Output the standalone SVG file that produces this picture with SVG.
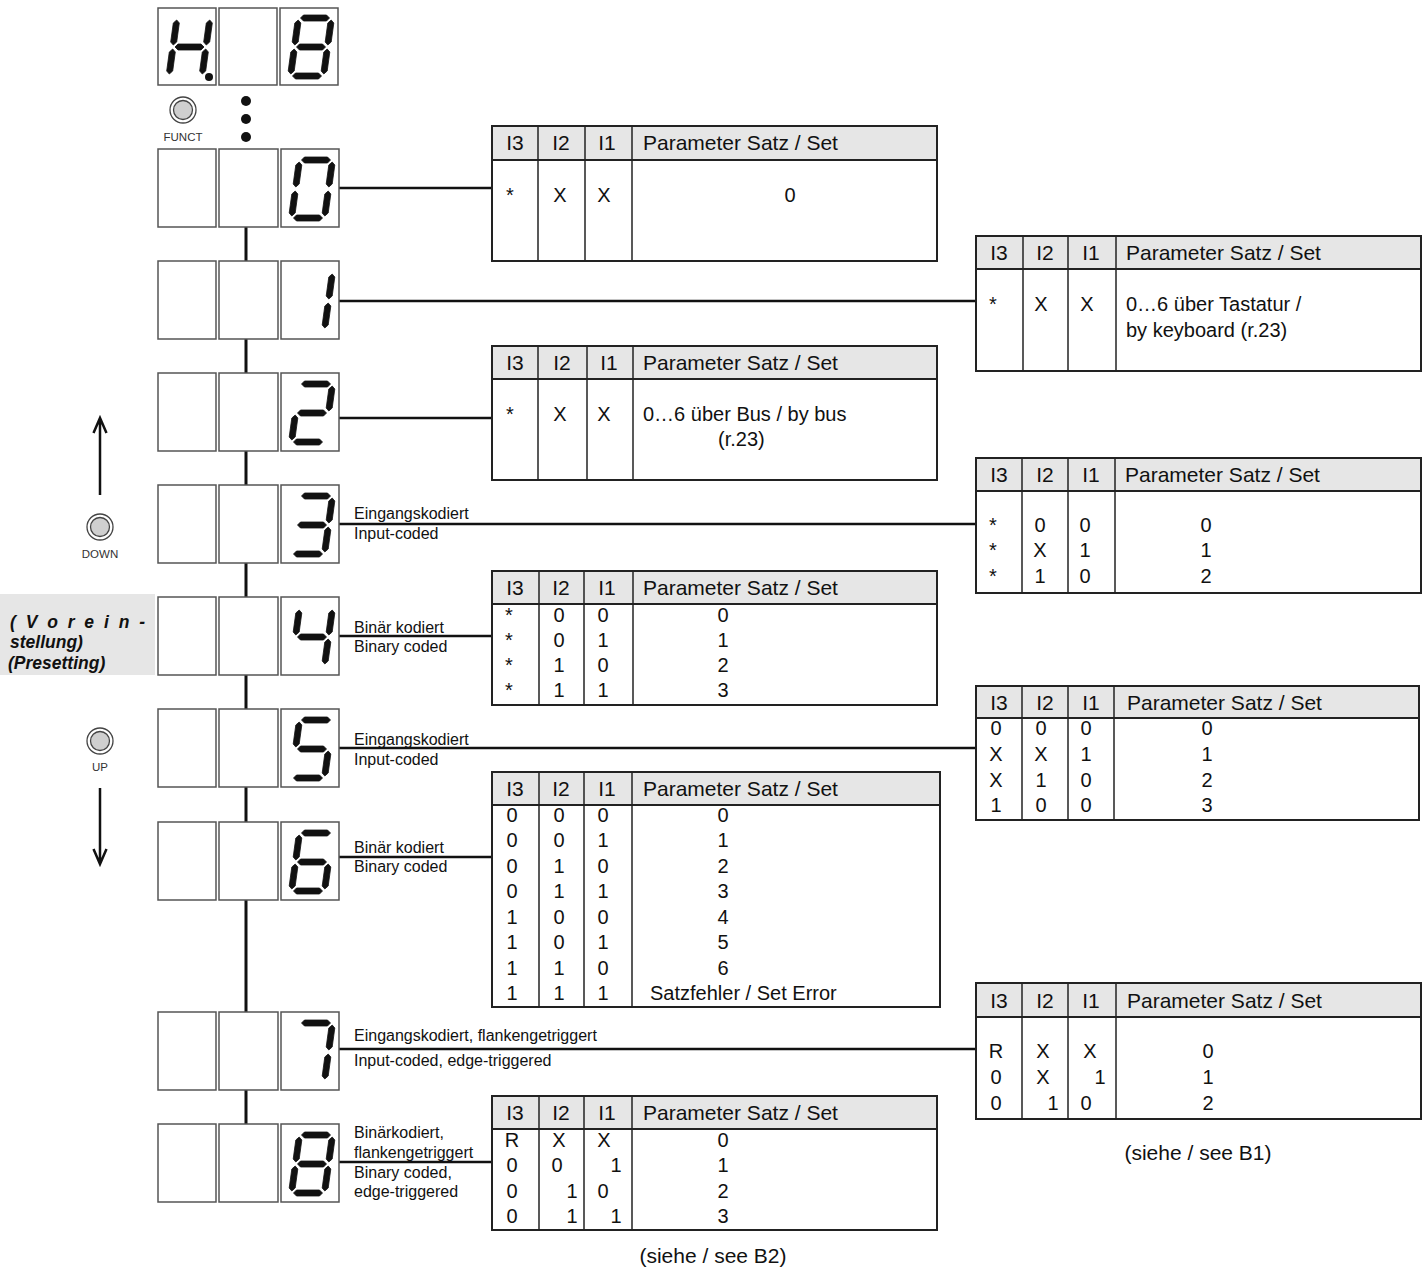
<svg xmlns="http://www.w3.org/2000/svg" xmlns:xlink="http://www.w3.org/1999/xlink" width="1428" height="1271" viewBox="0 0 1428 1271">
<style>
.bg{fill:#fff}
.box{fill:#fff;stroke:#555;stroke-width:1.5}
.seg{fill:#111;stroke:#111;stroke-width:0.8;stroke-linejoin:round}
.tb{fill:#fff;stroke:#222;stroke-width:2}
.hd{fill:#e6e6e6;stroke:#222;stroke-width:2}
.cl{stroke:#222;stroke-width:1.5}
.t{font-family:"Liberation Sans",Arial,Helvetica,sans-serif;font-size:20px;fill:#111}
.h{font-size:21px}
.s{font-size:16px}
.xs{font-size:11.5px;fill:#333}
.c{text-anchor:middle}
.bi{font-weight:bold;font-style:italic;font-size:17.5px}
.conn{stroke:#111;stroke-width:2.5;fill:none}
.btn-o{fill:#fff;stroke:#444;stroke-width:1.3}
.btn-i{fill:#cfcfcf;stroke:#444;stroke-width:1.3}
</style>
<defs>
<polygon id="sa" class="seg" points="23,11 26,8 49,8 52,11 49,14 26,14"/>
<polygon id="sb" class="seg" points="53.7,13 56.3,16 53.7,35 50.3,38 47.7,35 50.3,16"/>
<polygon id="sc" class="seg" points="49.7,42 52.3,45 49.7,64 46.3,67 43.7,64 46.3,45"/>
<polygon id="sd" class="seg" points="15,69 18,66 41,66 44,69 41,72 18,72"/>
<polygon id="se" class="seg" points="16.7,42 19.3,45 16.7,64 13.3,67 10.7,64 13.3,45"/>
<polygon id="sf" class="seg" points="20.7,13 23.3,16 20.7,35 17.3,38 14.7,35 17.3,16"/>
<polygon id="sg" class="seg" points="19,40 22,37 45,37 48,40 45,43 22,43"/>
</defs>
<rect class="bg" x="0" y="0" width="1428" height="1271"/>

<g id="connectors">
<line class="conn" x1="246" y1="227" x2="246" y2="1124" style="stroke-width:3"/>
<line class="conn" x1="339" y1="188" x2="492" y2="188"/>
<line class="conn" x1="339" y1="301" x2="976" y2="301"/>
<line class="conn" x1="339" y1="418" x2="492" y2="418"/>
<line class="conn" x1="339" y1="524" x2="976" y2="524"/>
<line class="conn" x1="339" y1="636" x2="492" y2="636"/>
<line class="conn" x1="339" y1="748" x2="976" y2="748"/>
<line class="conn" x1="339" y1="857" x2="492" y2="857"/>
<line class="conn" x1="339" y1="1049" x2="976" y2="1049"/>
<line class="conn" x1="339" y1="1162" x2="492" y2="1162"/>
<g class="t s">
<text x="354" y="519">Eingangskodiert</text>
<text x="354" y="539">Input-coded</text>
<text x="354" y="633">Binär kodiert</text>
<text x="354" y="652">Binary coded</text>
<text x="354" y="745">Eingangskodiert</text>
<text x="354" y="765">Input-coded</text>
<text x="354" y="853">Binär kodiert</text>
<text x="354" y="872">Binary coded</text>
<text x="354" y="1041">Eingangskodiert, flankengetriggert</text>
<text x="354" y="1066">Input-coded, edge-triggered</text>
<text x="354" y="1138">Binärkodiert,</text>
<text x="354" y="1158">flankengetriggert</text>
<text x="354" y="1178">Binary coded,</text>
<text x="354" y="1197">edge-triggered</text>
</g>
</g>

<g id="display">
<rect class="box" x="158" y="8" width="58" height="77"/>
<rect class="box" x="219" y="8" width="58" height="77"/>
<rect class="box" x="280" y="8" width="58" height="77"/>
<g transform="translate(156,7)"><use href="#sf"/><use href="#se"/><use href="#sg"/><use href="#sb"/><use href="#sc"/><circle cx="53" cy="70" r="4" fill="#111"/></g>
<g transform="translate(277.5,7)"><use href="#sa"/><use href="#sb"/><use href="#sc"/><use href="#sd"/><use href="#se"/><use href="#sf"/><use href="#sg"/></g>
</g>

<g id="funct">
<circle class="btn-o" cx="183" cy="110" r="13"/>
<circle class="btn-i" cx="183" cy="110" r="9.5"/>
<text class="t xs c" x="183" y="141">FUNCT</text>
</g>
<g id="dots" fill="#111">
<circle cx="246" cy="101" r="5"/><circle cx="246" cy="119" r="5"/><circle cx="246" cy="137" r="5"/>
</g>

<g id="down">
<path class="conn" d="M100,495 V420 M93.5,433 L100,418 L106.5,433"/>
<circle class="btn-o" cx="100" cy="527" r="13"/>
<circle class="btn-i" cx="100" cy="527" r="9.5"/>
<text class="t xs c" x="100" y="558">DOWN</text>
</g>
<g id="up">
<circle class="btn-o" cx="100" cy="741" r="13"/>
<circle class="btn-i" cx="100" cy="741" r="9.5"/>
<text class="t xs c" x="100" y="771">UP</text>
<path class="conn" d="M100,788 V862 M93.5,849 L100,864 L106.5,849"/>
</g>
<g id="presetting">
<rect x="0" y="594" width="155" height="81" fill="#e6e6e6"/>
<text class="t bi" x="10" y="628" textLength="135" lengthAdjust="spacing">( V o r e i n -</text>
<text class="t bi" x="10" y="648">stellung)</text>
<text class="t bi" x="8" y="669">(Presetting)</text>
</g>

<g id="row0">
<rect class="box" x="158" y="149" width="58" height="78"/><rect class="box" x="219" y="149" width="59" height="78"/><rect class="box" x="281" y="149" width="58" height="78"/>
<g transform="translate(278.5,149)"><use href="#sa"/><use href="#sb"/><use href="#sc"/><use href="#sd"/><use href="#se"/><use href="#sf"/></g>
</g>
<g id="row1">
<rect class="box" x="158" y="261" width="58" height="78"/><rect class="box" x="219" y="261" width="59" height="78"/><rect class="box" x="281" y="261" width="58" height="78"/>
<g transform="translate(278.5,261)"><use href="#sb"/><use href="#sc"/></g>
</g>
<g id="row2">
<rect class="box" x="158" y="373" width="58" height="78"/><rect class="box" x="219" y="373" width="59" height="78"/><rect class="box" x="281" y="373" width="58" height="78"/>
<g transform="translate(278.5,373)"><use href="#sa"/><use href="#sb"/><use href="#sg"/><use href="#se"/><use href="#sd"/></g>
</g>
<g id="row3">
<rect class="box" x="158" y="485" width="58" height="78"/><rect class="box" x="219" y="485" width="59" height="78"/><rect class="box" x="281" y="485" width="58" height="78"/>
<g transform="translate(278.5,485)"><use href="#sa"/><use href="#sb"/><use href="#sg"/><use href="#sc"/><use href="#sd"/></g>
</g>
<g id="row4">
<rect class="box" x="158" y="597" width="58" height="78"/><rect class="box" x="219" y="597" width="59" height="78"/><rect class="box" x="281" y="597" width="58" height="78"/>
<g transform="translate(278.5,597)"><use href="#sf"/><use href="#sg"/><use href="#sb"/><use href="#sc"/></g>
</g>
<g id="row5">
<rect class="box" x="158" y="709" width="58" height="78"/><rect class="box" x="219" y="709" width="59" height="78"/><rect class="box" x="281" y="709" width="58" height="78"/>
<g transform="translate(278.5,709)"><use href="#sa"/><use href="#sf"/><use href="#sg"/><use href="#sc"/><use href="#sd"/></g>
</g>
<g id="row6">
<rect class="box" x="158" y="822" width="58" height="78"/><rect class="box" x="219" y="822" width="59" height="78"/><rect class="box" x="281" y="822" width="58" height="78"/>
<g transform="translate(278.5,822)"><use href="#sa"/><use href="#sf"/><use href="#sg"/><use href="#se"/><use href="#sc"/><use href="#sd"/></g>
</g>
<g id="row7">
<rect class="box" x="158" y="1012" width="58" height="78"/><rect class="box" x="219" y="1012" width="59" height="78"/><rect class="box" x="281" y="1012" width="58" height="78"/>
<g transform="translate(278.5,1012)"><use href="#sa"/><use href="#sb"/><use href="#sc"/></g>
</g>
<g id="row8">
<rect class="box" x="158" y="1124" width="58" height="78"/><rect class="box" x="219" y="1124" width="59" height="78"/><rect class="box" x="281" y="1124" width="58" height="78"/>
<g transform="translate(278.5,1124)"><use href="#sa"/><use href="#sb"/><use href="#sc"/><use href="#sd"/><use href="#se"/><use href="#sf"/><use href="#sg"/></g>
</g>

<g id="table0">
<rect class="tb" x="492" y="126" width="445" height="135"/>
<rect class="hd" x="492" y="126" width="445" height="34"/>
<line class="cl" x1="538" y1="126" x2="538" y2="261"/><line class="cl" x1="585" y1="126" x2="585" y2="261"/><line class="cl" x1="632" y1="126" x2="632" y2="261"/>
<g class="t h"><text class="c" x="515" y="150">I3</text><text class="c" x="561" y="150">I2</text><text class="c" x="607" y="150">I1</text><text x="643" y="150">Parameter Satz / Set</text></g>
<g class="t"><text class="c" x="510" y="202">*</text><text class="c" x="560" y="202">X</text><text class="c" x="604" y="202">X</text><text class="c" x="790" y="202">0</text></g>
</g>

<g id="table1">
<rect class="tb" x="976" y="236" width="445" height="135"/>
<rect class="hd" x="976" y="236" width="445" height="33"/>
<line class="cl" x1="1023" y1="236" x2="1023" y2="371"/><line class="cl" x1="1068" y1="236" x2="1068" y2="371"/><line class="cl" x1="1116" y1="236" x2="1116" y2="371"/>
<g class="t h"><text class="c" x="999" y="260">I3</text><text class="c" x="1045" y="260">I2</text><text class="c" x="1091" y="260">I1</text><text x="1126" y="260">Parameter Satz / Set</text></g>
<g class="t"><text class="c" x="993" y="311">*</text><text class="c" x="1041" y="311">X</text><text class="c" x="1087" y="311">X</text><text x="1126" y="311">0…6 über Tastatur /</text><text x="1126" y="337">by keyboard (r.23)</text></g>
</g>

<g id="table2">
<rect class="tb" x="492" y="346" width="445" height="134"/>
<rect class="hd" x="492" y="346" width="445" height="33"/>
<line class="cl" x1="538" y1="346" x2="538" y2="480"/><line class="cl" x1="587" y1="346" x2="587" y2="480"/><line class="cl" x1="633" y1="346" x2="633" y2="480"/>
<g class="t h"><text class="c" x="515" y="370">I3</text><text class="c" x="562" y="370">I2</text><text class="c" x="609" y="370">I1</text><text x="643" y="370">Parameter Satz / Set</text></g>
<g class="t"><text class="c" x="510" y="421">*</text><text class="c" x="560" y="421">X</text><text class="c" x="604" y="421">X</text><text x="643" y="421">0…6 über Bus / by bus</text><text x="718" y="446">(r.23)</text></g>
</g>

<g id="table3">
<rect class="tb" x="976" y="458" width="445" height="135"/>
<rect class="hd" x="976" y="458" width="445" height="33"/>
<line class="cl" x1="1022" y1="458" x2="1022" y2="593"/><line class="cl" x1="1068" y1="458" x2="1068" y2="593"/><line class="cl" x1="1115" y1="458" x2="1115" y2="593"/>
<g class="t h"><text class="c" x="999" y="482">I3</text><text class="c" x="1045" y="482">I2</text><text class="c" x="1091" y="482">I1</text><text x="1125" y="482">Parameter Satz / Set</text></g>
<g class="t c">
<text x="993" y="532">*</text><text x="1040" y="532">0</text><text x="1085" y="532">0</text><text x="1206" y="532">0</text>
<text x="993" y="557">*</text><text x="1040" y="557">X</text><text x="1085" y="557">1</text><text x="1206" y="557">1</text>
<text x="993" y="583">*</text><text x="1040" y="583">1</text><text x="1085" y="583">0</text><text x="1206" y="583">2</text>
</g>
</g>

<g id="table4">
<rect class="tb" x="492" y="571" width="445" height="134"/>
<rect class="hd" x="492" y="571" width="445" height="33"/>
<line class="cl" x1="539" y1="571" x2="539" y2="705"/><line class="cl" x1="584" y1="571" x2="584" y2="705"/><line class="cl" x1="633" y1="571" x2="633" y2="705"/>
<g class="t h"><text class="c" x="515" y="595">I3</text><text class="c" x="561" y="595">I2</text><text class="c" x="607" y="595">I1</text><text x="643" y="595">Parameter Satz / Set</text></g>
<g class="t c">
<text x="509" y="622">*</text><text x="559" y="622">0</text><text x="603" y="622">0</text><text x="723" y="622">0</text>
<text x="509" y="647">*</text><text x="559" y="647">0</text><text x="603" y="647">1</text><text x="723" y="647">1</text>
<text x="509" y="672">*</text><text x="559" y="672">1</text><text x="603" y="672">0</text><text x="723" y="672">2</text>
<text x="509" y="697">*</text><text x="559" y="697">1</text><text x="603" y="697">1</text><text x="723" y="697">3</text>
</g>
</g>

<g id="table5">
<rect class="tb" x="976" y="686" width="443" height="134"/>
<rect class="hd" x="976" y="686" width="443" height="32"/>
<line class="cl" x1="1022" y1="686" x2="1022" y2="820"/><line class="cl" x1="1068" y1="686" x2="1068" y2="820"/><line class="cl" x1="1114" y1="686" x2="1114" y2="820"/>
<g class="t h"><text class="c" x="999" y="710">I3</text><text class="c" x="1045" y="710">I2</text><text class="c" x="1091" y="710">I1</text><text x="1127" y="710">Parameter Satz / Set</text></g>
<g class="t c">
<text x="996" y="735">0</text><text x="1041" y="735">0</text><text x="1086" y="735">0</text><text x="1207" y="735">0</text>
<text x="996" y="761">X</text><text x="1041" y="761">X</text><text x="1086" y="761">1</text><text x="1207" y="761">1</text>
<text x="996" y="787">X</text><text x="1041" y="787">1</text><text x="1086" y="787">0</text><text x="1207" y="787">2</text>
<text x="996" y="812">1</text><text x="1041" y="812">0</text><text x="1086" y="812">0</text><text x="1207" y="812">3</text>
</g>
</g>

<g id="table6">
<rect class="tb" x="492" y="772" width="448" height="235"/>
<rect class="hd" x="492" y="772" width="448" height="33"/>
<line class="cl" x1="539" y1="772" x2="539" y2="1007"/><line class="cl" x1="584" y1="772" x2="584" y2="1007"/><line class="cl" x1="632" y1="772" x2="632" y2="1007"/>
<g class="t h"><text class="c" x="515" y="796">I3</text><text class="c" x="561" y="796">I2</text><text class="c" x="607" y="796">I1</text><text x="643" y="796">Parameter Satz / Set</text></g>
<g class="t c">
<text x="512" y="822">0</text><text x="559" y="822">0</text><text x="603" y="822">0</text><text x="723" y="822">0</text>
<text x="512" y="847">0</text><text x="559" y="847">0</text><text x="603" y="847">1</text><text x="723" y="847">1</text>
<text x="512" y="873">0</text><text x="559" y="873">1</text><text x="603" y="873">0</text><text x="723" y="873">2</text>
<text x="512" y="898">0</text><text x="559" y="898">1</text><text x="603" y="898">1</text><text x="723" y="898">3</text>
<text x="512" y="924">1</text><text x="559" y="924">0</text><text x="603" y="924">0</text><text x="723" y="924">4</text>
<text x="512" y="949">1</text><text x="559" y="949">0</text><text x="603" y="949">1</text><text x="723" y="949">5</text>
<text x="512" y="975">1</text><text x="559" y="975">1</text><text x="603" y="975">0</text><text x="723" y="975">6</text>
<text x="512" y="1000">1</text><text x="559" y="1000">1</text><text x="603" y="1000">1</text>
</g>
<text class="t" x="650" y="1000">Satzfehler / Set Error</text>
</g>

<g id="table7">
<rect class="tb" x="976" y="983" width="445" height="136"/>
<rect class="hd" x="976" y="983" width="445" height="34"/>
<line class="cl" x1="1022" y1="983" x2="1022" y2="1119"/><line class="cl" x1="1068" y1="983" x2="1068" y2="1119"/><line class="cl" x1="1116" y1="983" x2="1116" y2="1119"/>
<g class="t h"><text class="c" x="999" y="1008">I3</text><text class="c" x="1045" y="1008">I2</text><text class="c" x="1091" y="1008">I1</text><text x="1127" y="1008">Parameter Satz / Set</text></g>
<g class="t c">
<text x="996" y="1058">R</text><text x="1043" y="1058">X</text><text x="1090" y="1058">X</text><text x="1208" y="1058">0</text>
<text x="996" y="1084">0</text><text x="1043" y="1084">X</text><text x="1100" y="1084">1</text><text x="1208" y="1084">1</text>
<text x="996" y="1110">0</text><text x="1053" y="1110">1</text><text x="1086" y="1110">0</text><text x="1208" y="1110">2</text>
</g>
<text class="t h c" x="1198" y="1160">(siehe / see B1)</text>
</g>

<g id="table8">
<rect class="tb" x="492" y="1096" width="445" height="134"/>
<rect class="hd" x="492" y="1096" width="445" height="33"/>
<line class="cl" x1="539" y1="1096" x2="539" y2="1230"/><line class="cl" x1="584" y1="1096" x2="584" y2="1230"/><line class="cl" x1="632" y1="1096" x2="632" y2="1230"/>
<g class="t h"><text class="c" x="515" y="1120">I3</text><text class="c" x="561" y="1120">I2</text><text class="c" x="607" y="1120">I1</text><text x="643" y="1120">Parameter Satz / Set</text></g>
<g class="t c">
<text x="512" y="1147">R</text><text x="559" y="1147">X</text><text x="604" y="1147">X</text><text x="723" y="1147">0</text>
<text x="512" y="1172">0</text><text x="557" y="1172">0</text><text x="616" y="1172">1</text><text x="723" y="1172">1</text>
<text x="512" y="1198">0</text><text x="572" y="1198">1</text><text x="603" y="1198">0</text><text x="723" y="1198">2</text>
<text x="512" y="1223">0</text><text x="572" y="1223">1</text><text x="616" y="1223">1</text><text x="723" y="1223">3</text>
</g>
<text class="t h c" x="713" y="1263">(siehe / see B2)</text>
</g>
</svg>
